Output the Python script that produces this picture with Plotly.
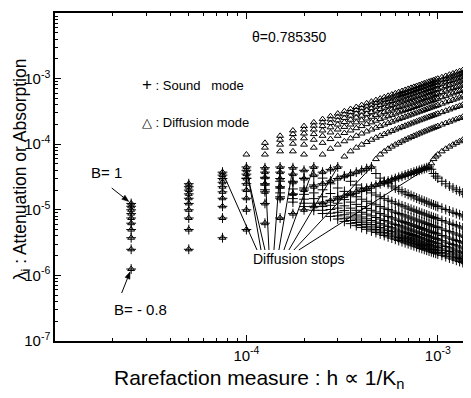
import math
import plotly.graph_objects as go

# ---------------- data ----------------
# rarefaction measure h, in units of 1e-5
h_cols_e5 = [2.5, 5, 7.5, 10, 12.5, 15, 17.5, 20, 22.5, 25, 27.5, 30, 32.5, 35, 37.5, 40, 42.5, 45, 47.5, 50,
             52.5, 55, 57.5, 60, 62.5, 65, 67.5, 70, 72.5, 75, 77.5, 80, 82.5, 85, 87.5, 90, 92.5, 95, 97.5, 100,
             105, 110, 115, 120, 125, 130, 135, 140, 145]

# attenuation lambda_i, in units of 1e-6
# low_* : diffusion + sound coincide (before diffusion stops)
# up_*  : upper (diffusion) branch after the stop, dn_* : lower (sound) branch after the stop
low_m08 = [1.25, 2.5, 3.75, 5, 6.25, 7.5, 8.75, 10, 11.3, 12.5, 13.8, 15, 16.3, 17.5, 18.8, 20, 21.3, 22.5, 23.8, 25,
           26.3, 27.5, 28.8, 30, 31.3, 32.5, 33.8, 35, 36.3, 37.5, 38.8, 40, 41.3, 42.5, 43.8, 45]
up_m08 = [51.1, 59.3, 64.9, 69.6, 77.8, 85.2, 92, 98.5, 104.8, 110.9, 116.9, 122.8, 128.5]
dn_m08 = [41.5, 35.7, 32.6, 30.4, 27.2, 24.9, 23, 21.5, 20.2, 19.1, 18.1, 17.2, 16.5]

low_m06 = [2.5, 5, 7.5, 10, 12.5, 15, 17.5, 20, 22.5, 25, 27.5, 30, 32.5, 35, 37.5, 40, 42.5, 45]
up_m06 = [59.3, 69.6, 77.8, 85.2, 92, 98.5, 104.8, 110.9, 116.9, 122.8, 128.5, 134.2, 139.9, 145.5, 151, 156.5,
          161.9, 167.4, 172.8, 178.1, 183.5, 188.8, 199.4, 210, 220.4, 230.9, 241.3, 251.6, 261.9, 272.2, 282.5]
dn_m06 = [35.7, 30.4, 27.2, 24.9, 23, 21.5, 20.2, 19.1, 18.1, 17.2, 16.5, 15.8, 15.1, 14.5, 14.0, 13.5, 13.1, 12.6,
          12.2, 11.9, 11.5, 11.2, 10.6, 10.1, 9.6, 9.16, 8.77, 8.41, 8.08, 7.77, 7.49]

low_m04 = [3.75, 7.5, 11.3, 15, 18.8, 22.5, 26.3, 30, 33.8, 37.5, 41.3, 45]
up_m04 = [64.9, 77.8, 88.6, 98.5, 107.9, 116.9, 125.7, 134.2, 142.7, 151, 159.2, 167.4, 175.4, 183.5, 191.5, 199.4,
          207.3, 215.2, 223, 230.9, 238.7, 246.4, 254.2, 261.9, 269.7, 277.4, 285.1, 292.8, 308.1, 323.5, 338.8, 354,
          369.3, 384.5, 399.7, 414.9, 430.1]
dn_m04 = [32.6, 27.2, 23.9, 21.5, 19.6, 18.1, 16.8, 15.8, 14.8, 14.0, 13.3, 12.6, 12.1, 11.5, 11.1, 10.6, 10.2, 9.83,
          9.49, 9.16, 8.86, 8.59, 8.32, 8.08, 7.85, 7.63, 7.42, 7.23, 6.87, 6.54, 6.25, 5.98, 5.73, 5.5, 5.29, 5.1, 4.92]

low_m02 = [5, 10, 15, 20, 25, 30, 35, 40, 45]
up_m02 = [69.6, 85.2, 98.5, 110.9, 122.8, 134.2, 145.5, 156.5, 167.4, 178.1, 188.8, 199.4, 210, 220.4, 230.9, 241.3,
          251.6, 261.9, 272.2, 282.5, 292.8, 303, 313.3, 323.5, 333.7, 343.9, 354, 364.2, 374.3, 384.5, 394.6, 414.9,
          435.1, 455.4, 475.6, 495.7, 515.9, 536.1, 556.2, 576.3]
dn_m02 = [30.4, 24.9, 21.5, 19.1, 17.2, 15.8, 14.5, 13.5, 12.6, 11.9, 11.2, 10.6, 10.1, 9.6, 9.16, 8.77, 8.41, 8.08,
          7.77, 7.49, 7.23, 6.98, 6.75, 6.54, 6.34, 6.15, 5.98, 5.81, 5.65, 5.5, 5.36, 5.1, 4.86, 4.65, 4.45, 4.27,
          4.1, 3.95, 3.8, 3.67]

low_0 = [6.25, 12.5, 18.8, 25, 31.3, 37.5, 43.8]
up_0 = [69.6, 88.6, 104.8, 119.8, 134.2, 148.2, 161.9, 175.4, 188.8, 202.1, 215.2, 228.3, 241.3, 254.2, 267.1, 280,
        292.8, 305.6, 318.4, 331.1, 343.9, 356.6, 369.3, 382, 394.6, 407.3, 420, 432.6, 445.3, 457.9, 470.5, 483.1,
        495.7, 521, 546.1, 571.3, 596.4, 621.6, 646.7, 671.9, 697, 722.1]
dn_0 = [30.4, 23.9, 20.2, 17.7, 15.8, 14.3, 13.1, 12.1, 11.2, 10.5, 9.83, 9.27, 8.77, 8.32, 7.92, 7.56, 7.23, 6.92,
        6.65, 6.39, 6.15, 5.93, 5.73, 5.54, 5.36, 5.2, 5.04, 4.89, 4.75, 4.62, 4.5, 4.38, 4.27, 4.06, 3.87, 3.7,
        3.55, 3.4, 3.27, 3.15, 3.04, 2.93]

low_p02 = [7.5, 15, 22.5, 30, 37.5, 45]
up_p02 = [77.8, 98.5, 116.9, 134.2, 151, 167.4, 183.5, 199.4, 215.2, 230.9, 246.4, 261.9, 277.4, 292.8, 308.1, 323.5,
          338.8, 354, 369.3, 384.5, 399.7, 414.9, 430.1, 445.3, 460.4, 475.6, 490.7, 505.8, 521, 536.1, 551.2, 566.3,
          581.4, 596.4, 626.6, 656.8, 686.9, 717.1, 747.2, 777.3, 807.4, 837.5, 867.6]
dn_p02 = [27.2, 21.5, 18.1, 15.8, 14.0, 12.6, 11.5, 10.6, 9.83, 9.16, 8.59, 8.08, 7.63, 7.23, 6.87, 6.54, 6.25, 5.98,
          5.73, 5.5, 5.29, 5.1, 4.92, 4.75, 4.6, 4.45, 4.31, 4.18, 4.06, 3.95, 3.84, 3.74, 3.64, 3.55, 3.38, 3.22,
          3.08, 2.95, 2.83, 2.72, 2.62, 2.53, 2.44]

low_p04 = [8.75, 17.5, 26.3, 35, 43.8]
up_p04 = [77.8, 101.7, 122.8, 142.7, 161.9, 180.8, 199.4, 217.8, 236.1, 254.2, 272.2, 290.2, 308.1, 326, 343.9, 361.7,
          379.4, 397.2, 414.9, 432.6, 450.3, 468, 485.6, 503.3, 521, 538.6, 556.2, 573.8, 591.4, 609, 626.6, 644.2,
          661.8, 679.4, 697, 732.1, 767.3, 802.4, 837.5, 872.6, 907.7, 942.8, 977.8, 1012.9]
dn_p04 = [27.2, 20.8, 17.2, 14.8, 13.1, 11.7, 10.6, 9.72, 8.96, 8.32, 7.77, 7.29, 6.87, 6.49, 6.15, 5.85, 5.58, 5.33,
          5.1, 4.89, 4.7, 4.52, 4.36, 4.2, 4.06, 3.93, 3.8, 3.69, 3.58, 3.47, 3.38, 3.28, 3.2, 3.11, 3.04, 2.89, 2.76,
          2.64, 2.53, 2.42, 2.33, 2.24, 2.16, 2.09]

low_p06 = [10, 20, 30, 40]
up_p06 = [69.6, 98.5, 122.8, 145.5, 167.4, 188.8, 210, 230.9, 251.6, 272.2, 292.8, 313.3, 333.7, 354, 374.3, 394.6,
          414.9, 435.1, 455.4, 475.6, 495.7, 515.9, 536.1, 556.2, 576.3, 596.4, 616.6, 636.7, 656.8, 676.9, 697, 717.1,
          737.1, 757.2, 777.3, 797.4, 837.5, 877.6, 917.7, 957.8, 997.9, 1038, 1078, 1118, 1158]
dn_p06 = [30.4, 21.5, 17.2, 14.5, 12.6, 11.2, 10.1, 9.16, 8.41, 7.77, 7.23, 6.75, 6.34, 5.98, 5.65, 5.36, 5.1, 4.86,
          4.65, 4.45, 4.27, 4.1, 3.95, 3.8, 3.67, 3.55, 3.43, 3.32, 3.22, 3.13, 3.04, 2.95, 2.87, 2.79, 2.72, 2.65,
          2.53, 2.41, 2.31, 2.21, 2.12, 2.04, 1.96, 1.89, 1.83]

low_p08 = [11.3, 22.5, 33.8, 45]
up_p08 = [88.6, 116.9, 142.7, 167.4, 191.5, 215.2, 238.7, 261.9, 285.1, 308.1, 331.1, 354, 376.9, 399.7, 422.5, 445.3,
          468, 490.7, 513.4, 536.1, 558.7, 581.4, 604, 626.6, 649.3, 671.9, 694.5, 717.1, 739.7, 762.2, 784.8, 807.4,
          830, 852.5, 875.1, 897.6, 942.8, 987.9, 1033, 1078, 1123, 1168, 1213, 1258, 1303]
dn_p08 = [23.9, 18.1, 14.8, 12.6, 11.1, 9.83, 8.86, 8.08, 7.42, 6.87, 6.39, 5.98, 5.61, 5.29, 5.01, 4.75, 4.52, 4.31,
          4.12, 3.95, 3.79, 3.64, 3.5, 3.38, 3.26, 3.15, 3.05, 2.95, 2.86, 2.78, 2.7, 2.62, 2.55, 2.48, 2.42, 2.36,
          2.24, 2.14, 2.05, 1.96, 1.88, 1.81, 1.74, 1.68, 1.62]

low_p10 = [12.5, 25, 37.5]
up_p10 = [69.6, 104.8, 134.2, 161.9, 188.8, 215.2, 241.3, 267.1, 292.8, 318.4, 343.9, 369.3, 394.6, 420, 445.3, 470.5,
          495.7, 521, 546.1, 571.3, 596.4, 621.6, 646.7, 671.9, 697, 722.1, 747.2, 772.3, 797.4, 822.4, 847.5, 872.6,
          897.6, 922.7, 947.8, 972.8, 997.9, 1048, 1098, 1148, 1198, 1248, 1298, 1348, 1398, 1449]
dn_p10 = [30.4, 20.2, 15.8, 13.1, 11.2, 9.83, 8.77, 7.92, 7.23, 6.65, 6.15, 5.73, 5.36, 5.04, 4.75, 4.5, 4.27, 4.06,
          3.87, 3.7, 3.55, 3.4, 3.27, 3.15, 3.04, 2.93, 2.83, 2.74, 2.65, 2.57, 2.49, 2.42, 2.35, 2.29, 2.23, 2.17,
          2.12, 2.02, 1.93, 1.84, 1.77, 1.7, 1.63, 1.57, 1.51, 1.46]

B_values = [-0.8, -0.6, -0.4, -0.2, 0.0, 0.2, 0.4, 0.6, 0.8, 1.0]
branches = [(low_m08, up_m08, dn_m08), (low_m06, up_m06, dn_m06), (low_m04, up_m04, dn_m04),
            (low_m02, up_m02, dn_m02), (low_0, up_0, dn_0), (low_p02, up_p02, dn_p02),
            (low_p04, up_p04, dn_p04), (low_p06, up_p06, dn_p06), (low_p08, up_p08, dn_p08),
            (low_p10, up_p10, dn_p10)]

x_major = [1e-4, 1e-3]
x_major_text = ["10<sup>-4</sup>", "10<sup>-3</sup>"]
y_major = [1e-7, 1e-6, 1e-5, 1e-4, 1e-3, 1e-2]
y_major_text = ["10<sup>-7</sup>", "10<sup>-6</sup>", "10<sup>-5</sup>", "10<sup>-4</sup>", "10<sup>-3</sup>", "10<sup>-2</sup>"]

# ---------------- geometry (page pixels) ----------------
PAGE_OFF = 8                      # default body margin of the html page
W, HGT = 471 - PAGE_OFF, 398 - PAGE_OFF
L, T, PW, PH = 55, 13, 416, 328   # plot area in page pixels
X_RANGE = [-5.0, -2.837]
Y_RANGE = [-7.0, -2.0]
FONT = "Liberation Sans, Arial, Helvetica, sans-serif"


def px(h):
    return L + (math.log10(h) - X_RANGE[0]) / (X_RANGE[1] - X_RANGE[0]) * PW


def py(v):
    return T + (Y_RANGE[1] - math.log10(v)) / (Y_RANGE[1] - Y_RANGE[0]) * PH


def paper(xp, yp):
    return (xp - L) / PW, (T + PH - yp) / PH


H = [v * 1e-5 for v in h_cols_e5]
tri_x, tri_y, crs_x, crs_y = [], [], [], []
stops = []
for low, up, dn in branches:
    n = len(low)
    xl = H[:n]
    xu = H[n:n + len(up)]
    tri_x += xl + xu
    tri_y += [v * 1e-6 for v in low] + [v * 1e-6 for v in up]
    crs_x += xl + xu
    crs_y += [v * 1e-6 for v in low] + [v * 1e-6 for v in dn]
    stops.append((xl[-1], low[-1] * 1e-6))

fig = go.Figure()
fig.add_trace(go.Scatter(x=crs_x, y=crs_y, mode="markers", name="Sound mode",
                         marker=dict(symbol="cross-thin-open", size=7, color="black",
                                     line=dict(width=1, color="black"))))
fig.add_trace(go.Scatter(x=tri_x, y=tri_y, mode="markers", name="Diffusion mode",
                         marker=dict(symbol="triangle-up-open", size=6, color="black",
                                     line=dict(width=1, color="black"))))

minor_x = [m * 10 ** e for e in (-5, -4, -3) for m in range(2, 10) if m * 10 ** e < 1.45e-3]
minor_y = [m * 10 ** e for e in (-7, -6, -5, -4, -3) for m in range(2, 10)]

axis_common = dict(type="log", showline=True, linecolor="black", linewidth=1.5, mirror="ticks",
                   ticks="inside", ticklen=6, tickwidth=1, tickcolor="black", showgrid=False,
                   zeroline=False, tickfont=dict(size=15, family=FONT, color="black"))
fig.update_xaxes(range=X_RANGE, tickmode="array", tickvals=x_major, ticktext=x_major_text,
                 minor=dict(tickmode="array", tickvals=minor_x, ticks="inside", ticklen=3,
                            tickcolor="black", tickwidth=1, showgrid=False), **axis_common)
fig.update_yaxes(range=Y_RANGE, tickmode="array", tickvals=y_major, ticktext=y_major_text,
                 minor=dict(tickmode="array", tickvals=minor_y, ticks="inside", ticklen=3,
                            tickcolor="black", tickwidth=1, showgrid=False), **axis_common)

ann = []
shapes = []


def text_at(xp, yp, text, size, xanchor="center", angle=0):
    xx, yy = paper(xp, yp)
    ann.append(dict(x=xx, y=yy, xref="paper", yref="paper", text=text, showarrow=False,
                    xanchor=xanchor, yanchor="middle", textangle=angle,
                    font=dict(size=size, family=FONT, color="black")))


def seg(p0, p1):
    a = paper(*p0)
    b = paper(*p1)
    shapes.append(dict(type="line", xref="paper", yref="paper", x0=a[0], y0=a[1], x1=b[0], y1=b[1],
                       line=dict(color="black", width=1)))


def arrow(tail, head, standoff=3, length=7, half=2.6):
    dx, dy = head[0] - tail[0], head[1] - tail[1]
    d = math.hypot(dx, dy)
    ux, uy = dx / d, dy / d
    tip = (head[0] - ux * standoff, head[1] - uy * standoff)
    base = (tip[0] - ux * length, tip[1] - uy * length)
    seg(tail, base)
    p1 = paper(*tip)
    p2 = paper(base[0] - uy * half, base[1] + ux * half)
    p3 = paper(base[0] + uy * half, base[1] - ux * half)
    path = "M %.5f,%.5f L %.5f,%.5f L %.5f,%.5f Z" % (p1[0], p1[1], p2[0], p2[1], p3[0], p3[1])
    shapes.append(dict(type="path", xref="paper", yref="paper", path=path,
                       fillcolor="black", line=dict(color="black", width=0.5)))


text_at(259.5, 379, "Rarefaction measure : h \u221d 1/K<sub>n</sub>", 21)
text_at(21, 169, "\u03bb<sub>i</sub> : Attenuation or Absorption", 17.5, angle=-90)
text_at(291, 37, "\u03b8=0.785350", 14)
text_at(140, 85, "<span style='font-size:17px'>+</span> : Sound\u00a0\u00a0\u00a0mode", 13, xanchor="left")
text_at(140, 123, "\u25b3 : Diffusion mode", 13, xanchor="left")
text_at(107, 172, "B= 1", 15)
text_at(141, 309, "B= - 0.8", 15)
text_at(300, 259, "Diffusion stops", 14)

# arrows to the B = 1 and B = -0.8 points of the first column
b1 = (px(H[0]), py(low_p10[0] * 1e-6))
bm = (px(H[0]), py(low_m08[0] * 1e-6))
arrow((112, 188), b1)
arrow((122, 293), bm)

# "Diffusion stops" lines to the last point before each stop
origins = [300, 295, 290, 285, 280, 275, 270, 266, 262, 258]
for (hx, vy), ox in zip(stops, origins):
    seg((ox, 250), (px(hx), py(vy)))

fig.update_layout(width=W, height=HGT,
                  margin=dict(l=L - PAGE_OFF, r=W - (L - PAGE_OFF) - PW, t=T - PAGE_OFF,
                              b=HGT - (T - PAGE_OFF) - PH),
                  paper_bgcolor="white", plot_bgcolor="white", showlegend=False,
                  font=dict(family=FONT, color="black"), annotations=ann, shapes=shapes)

fig.write_html("out.html")
